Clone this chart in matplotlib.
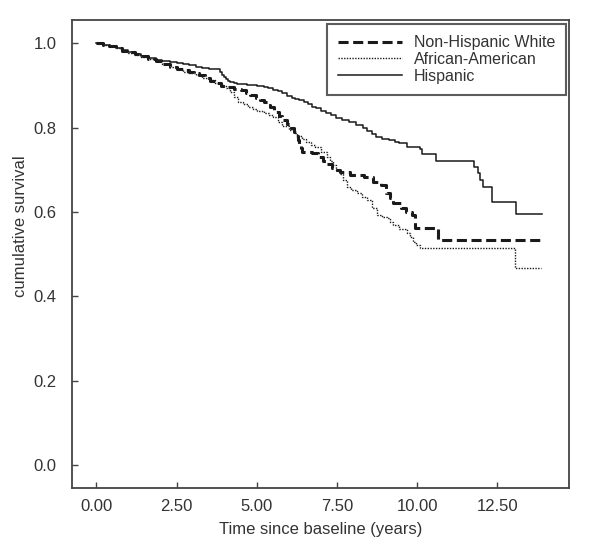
import numpy as np
import matplotlib
matplotlib.use("Agg")
import matplotlib.pyplot as plt

# Kaplan-Meier style curves (years, cumulative survival)
hisp_t = [0.00, 0.20, 0.40, 0.60, 0.80, 1.00, 1.20, 1.40, 1.60, 1.85, 2.05, 2.30,
          2.50, 2.70, 2.90, 3.10, 3.30, 3.50, 3.78, 3.85, 3.92, 3.98, 4.04, 4.10,
          4.16, 4.28, 4.40, 4.70, 5.00, 5.22, 5.36, 5.50, 5.65, 5.80, 5.95, 6.10,
          6.20, 6.33, 6.46, 6.60, 6.73, 6.86, 7.00, 7.15, 7.30, 7.48, 7.65, 7.88,
          8.10, 8.30, 8.45, 8.60, 8.73, 8.90, 9.12, 9.30, 9.45, 9.70, 10.08, 10.15,
          10.60, 11.76, 11.90, 11.97, 12.05, 12.35, 13.07, 13.88]
hisp_s = [1.000, 0.997, 0.993, 0.989, 0.984, 0.979, 0.975, 0.970, 0.965, 0.960, 0.958, 0.955,
          0.953, 0.951, 0.948, 0.945, 0.942, 0.940, 0.938, 0.932, 0.925, 0.920, 0.915, 0.911,
          0.908, 0.905, 0.903, 0.901, 0.900, 0.897, 0.893, 0.890, 0.886, 0.882, 0.876, 0.870,
          0.867, 0.865, 0.860, 0.855, 0.850, 0.846, 0.840, 0.835, 0.829, 0.822, 0.818, 0.813,
          0.807, 0.800, 0.792, 0.784, 0.777, 0.773, 0.770, 0.766, 0.763, 0.753, 0.750, 0.738,
          0.720, 0.706, 0.692, 0.675, 0.659, 0.623, 0.595, 0.595]

nhw_t = [0.00, 0.20, 0.40, 0.60, 0.80, 1.00, 1.20, 1.40, 1.60, 1.85, 2.05, 2.30,
         2.50, 2.70, 2.90, 3.05, 3.20, 3.40, 3.55, 3.70, 3.90, 4.10, 4.30, 4.50,
         4.65, 4.78, 4.97, 5.10, 5.24, 5.34, 5.42, 5.55, 5.68, 5.80, 5.94, 6.08,
         6.15, 6.22, 6.28, 6.33, 6.38, 6.42, 6.73, 6.90, 7.06, 7.20, 7.34, 7.45,
         7.59, 7.90, 8.34, 8.62, 8.89, 9.04, 9.14, 9.24, 9.49, 9.64, 9.84, 9.92,
         10.66, 13.85]
nhw_s = [1.000, 0.997, 0.993, 0.988, 0.983, 0.979, 0.974, 0.969, 0.964, 0.958, 0.952, 0.945,
         0.940, 0.936, 0.932, 0.929, 0.924, 0.918, 0.911, 0.905, 0.900, 0.896, 0.892, 0.889,
         0.882, 0.877, 0.870, 0.865, 0.860, 0.853, 0.848, 0.838, 0.828, 0.818, 0.808, 0.800,
         0.790, 0.780, 0.770, 0.762, 0.752, 0.742, 0.739, 0.730, 0.722, 0.713, 0.704, 0.699,
         0.694, 0.688, 0.682, 0.670, 0.664, 0.645, 0.633, 0.622, 0.609, 0.600, 0.592, 0.562,
         0.533, 0.533]

aa_t = [0.00, 0.20, 0.40, 0.60, 0.80, 1.00, 1.20, 1.40, 1.60, 1.85, 2.05, 2.30,
        2.50, 2.70, 2.90, 3.10, 3.30, 3.50, 3.70, 3.92, 4.05, 4.17, 4.30, 4.42,
        4.57, 4.72, 4.87, 5.02, 5.24, 5.38, 5.52, 5.66, 5.80, 6.02, 6.15, 6.27,
        6.40, 6.55, 6.68, 6.82, 7.00, 7.18, 7.28, 7.38, 7.48, 7.59, 7.70, 7.81,
        7.95, 8.12, 8.28, 8.43, 8.58, 8.74, 8.90, 9.05, 9.15, 9.24, 9.45, 9.67,
        9.77, 9.86, 9.97, 10.08, 13.05, 13.87]
aa_s = [1.000, 0.997, 0.993, 0.988, 0.983, 0.978, 0.973, 0.968, 0.963, 0.957, 0.950, 0.943,
        0.938, 0.933, 0.929, 0.925, 0.918, 0.912, 0.906, 0.900, 0.893, 0.885, 0.873, 0.862,
        0.856, 0.850, 0.845, 0.840, 0.834, 0.830, 0.825, 0.814, 0.803, 0.794, 0.787, 0.780,
        0.772, 0.765, 0.760, 0.755, 0.743, 0.730, 0.720, 0.711, 0.700, 0.690, 0.675, 0.659,
        0.652, 0.645, 0.636, 0.628, 0.610, 0.592, 0.588, 0.585, 0.577, 0.569, 0.560, 0.550,
        0.540, 0.528, 0.521, 0.514, 0.467, 0.467]

x_ticks = [0.0, 2.5, 5.0, 7.5, 10.0, 12.5]
y_ticks = [0.0, 0.2, 0.4, 0.6, 0.8, 1.0]

plt.rcParams["font.family"] = ["Liberation Sans", "DejaVu Sans"]
ink = "#1a1a1a"
txt = "#333333"

fig = plt.figure(figsize=(6.0, 5.53), dpi=100)
ax = fig.add_axes([0.12, 0.1175, 0.828, 0.846])

ax.plot(nhw_t, nhw_s, drawstyle="steps-post", color=ink, lw=2.2,
        linestyle=(0, (3.3, 1.5)), label="Non-Hispanic White")
ax.plot(aa_t, aa_s, drawstyle="steps-post", color=ink, lw=1.0,
        linestyle=(0, (1, 1)), label="African-American")
ax.plot(hisp_t, hisp_s, drawstyle="steps-post", color=ink, lw=1.1,
        linestyle="-", label="Hispanic")

ax.set_xlim(-0.76, 14.73)
ax.set_ylim(-0.055, 1.055)
ax.set_xticks(x_ticks)
ax.set_xticklabels([f"{v:.2f}" for v in x_ticks])
ax.set_yticks(y_ticks)
ax.set_yticklabels([f"{v:.1f}" for v in y_ticks])
ax.tick_params(direction="in", length=4, width=1.0, color="#444444",
               labelsize=12, labelcolor=txt)
ax.tick_params(axis="y", pad=11)
ax.tick_params(axis="x", pad=8)
for sp in ax.spines.values():
    sp.set_linewidth(1.3)
    sp.set_color("#444444")

ax.set_xlabel("Time since baseline (years)", fontsize=12, color=txt, labelpad=6)
ax.set_ylabel("cumulative survival", fontsize=12, color=txt)
ax.yaxis.set_label_coords(-0.088, 0.56)

leg = ax.legend(loc="upper right", bbox_to_anchor=(0.995, 0.992), fontsize=11.5,
                frameon=True, fancybox=False, handlelength=4.0, handletextpad=0.75,
                labelspacing=0.12, borderpad=0.7, borderaxespad=0.0)
leg.get_frame().set_edgecolor("#333333")
leg.get_frame().set_linewidth(1.5)
for t in leg.get_texts():
    t.set_color(txt)

fig.savefig("out.png", dpi=100)
